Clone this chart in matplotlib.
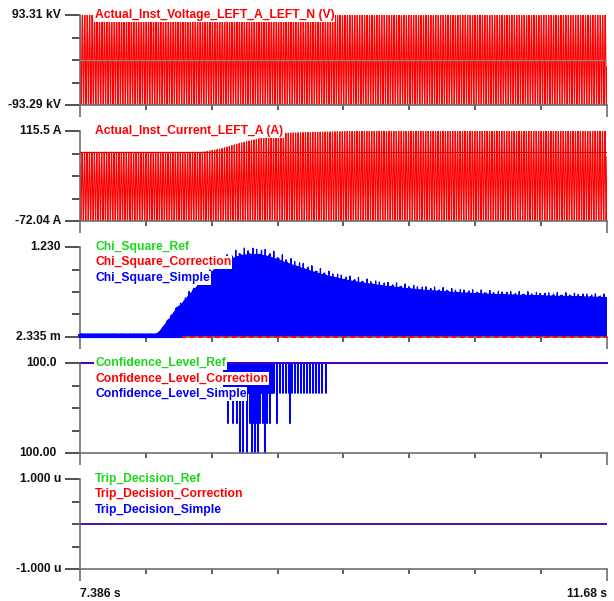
import numpy as np
import matplotlib
matplotlib.use("Agg")
import matplotlib.pyplot as plt

plt.rcParams["font.family"] = ["Liberation Sans", "DejaVu Sans"]
plt.rcParams["path.simplify"] = False

# ---- time base -------------------------------------------------------------
T_START, T_END = 7.386, 11.68
FS = 2000.0            # samples per second
F_GRID = 50.0          # grid frequency, Hz
t = np.arange(T_START, T_END, 1.0 / FS)

# ---- channel data ----------------------------------------------------------
volt_peak_kv = 93.3
volt_range = (-93.29, 93.31)

cur_knot_t = [7.386, 8.364, 8.388, 8.527, 8.665, 8.796, 8.934, 9.073, 9.342, 9.749, 11.680]
cur_hi_v = [71.7, 71.7, 71.7, 78.0, 88.4, 96.7, 105.1, 111.3, 113.4, 115.5, 115.5]
cur_lo_v = -72.04
cur_prefault_peak = 71.7
cur_range = (-72.04, 115.5)

chi_knot_t = [7.386, 8.013, 8.038, 8.119, 8.201, 8.282, 8.364, 8.445, 8.527, 8.608,
              8.690, 8.771, 8.853, 8.934, 9.056, 9.179, 9.342, 9.505, 9.667, 9.830,
              10.156, 10.482, 10.808, 11.134, 11.460, 11.680]
chi_knot_v = [0.025, 0.025, 0.055, 0.232, 0.423, 0.587, 0.737, 0.873, 0.982, 1.060,
              1.110, 1.130, 1.125, 1.095, 1.020, 0.950, 0.860, 0.795, 0.745, 0.705,
              0.645, 0.605, 0.580, 0.565, 0.552, 0.540]
chi_ref_v = 0.0
chi_corr_v = 0.0035
chi_range = (0.002335, 1.230)

conf_top = 100.0
conf_levels = [99.99867, 99.99733, 99.996]
conf_range = (99.996, 100.0)
conf_block = (8.559, 8.950)      # dense drop-outs to the first level
conf_spikes_1 = [8.967, 8.991, 9.016, 9.040, 9.065, 9.089, 9.113, 9.138, 9.162,
                 9.187, 9.211, 9.236, 9.260, 9.285, 9.309, 9.333, 9.358, 9.390]
conf_spikes_2 = [8.592, 8.633, 8.665, 8.690, 8.714, 8.747, 8.771, 8.796, 8.828,
                 8.853, 8.877, 8.910, 8.934, 8.991, 9.097]
conf_spikes_3 = [8.690, 8.714, 8.747, 8.788, 8.812, 8.836, 8.893]

trip_value = 0.0
trip_range = (-1.0e-6, 1.0e-6)

# ---- build waveforms -------------------------------------------------------
w = 2 * np.pi * F_GRID * t
voltage = volt_peak_kv * np.sin(w)

hi = np.interp(t, cur_knot_t, cur_hi_v)
current = (hi + cur_lo_v) / 2 + (hi - cur_lo_v) / 2 * np.sin(w + 0.6)

chi_env = np.interp(t, chi_knot_t, chi_knot_v)
ripple = 1.0 + 0.09 * np.cos(np.pi * 29.0 * t) ** 12
chi_simple = chi_env * ripple * (0.5 - 0.5 * np.cos(2 * w))
chi_ref = np.full_like(t, chi_ref_v)
chi_corr = np.full_like(t, chi_corr_v)

conf_simple = np.full_like(t, conf_top)
in_block = (t >= conf_block[0]) & (t <= conf_block[1])
idx_block = np.where(in_block)[0]
conf_simple[idx_block[::4]] = conf_levels[0]
conf_simple[idx_block[1::4]] = conf_levels[0]
for lvl, spikes in zip(conf_levels, [conf_spikes_1, conf_spikes_2, conf_spikes_3]):
    for ts in spikes:
        k = int(round((ts - T_START) * FS))
        conf_simple[k] = min(conf_simple[k], lvl)
conf_ref = np.full_like(t, conf_top)
conf_corr = np.full_like(t, conf_top)

trip = np.full_like(t, trip_value)

# ---- figure layout ---------------------------------------------------------
W, H = 614, 601
fig = plt.figure(figsize=(W / 100, H / 100), dpi=100)

AX_L, AX_W, AX_H = 80, 527, 90
tops = [15, 131, 247, 363, 479]
AXIS_GREY = "#6e6e6e"
GREEN, RED, BLUE = "#19d919", "#ff0000", "#0000ff"
FONT = dict(fontsize=8.7, fontweight="bold")


def make_axes(top):
    ax = fig.add_axes([AX_L / W, 1 - (top + AX_H) / H, AX_W / W, AX_H / H])
    ax.set_facecolor("none")
    for s in ("top", "right"):
        ax.spines[s].set_visible(False)
    for s in ("left", "bottom"):
        ax.spines[s].set_color(AXIS_GREY)
        ax.spines[s].set_linewidth(1.2)
    ax.set_xlim(T_START, T_END)
    xt = np.linspace(T_START, T_END, 9)
    ax.set_xticks([xt[0], xt[-1]])
    ax.set_xticks(xt[1:-1], minor=True)
    ax.tick_params(axis="x", which="major", direction="out", length=8.6,
                   width=1.2, color=AXIS_GREY, labelbottom=False)
    ax.tick_params(axis="x", which="minor", direction="out", length=3.6,
                   width=1.2, color="#444444")
    return ax


def y_axis(ax, lo, hi, lo_txt, hi_txt, gap_px):
    ax.set_ylim(lo, hi)
    yt = np.linspace(lo, hi, 5)
    ax.set_yticks([lo, hi])
    ax.set_yticks(yt[1:-1], minor=True)
    ax.tick_params(axis="y", which="major", direction="out", length=10.8,
                   width=1.2, color="#333333", labelleft=False)
    ax.tick_params(axis="y", which="minor", direction="out", length=5.8,
                   width=1.2, color="#333333")
    for val, txt in ((hi, hi_txt), (lo, lo_txt)):
        ax.annotate(txt, xy=(0, val), xycoords=("axes fraction", "data"),
                    xytext=(-gap_px * 0.72, 0), textcoords="offset points",
                    ha="right", va="center", color="#111111",
                    annotation_clip=False, **FONT)


def legend(ax, names, colors):
    for i, (n, c) in enumerate(zip(names, colors)):
        ax.text(15 / AX_W, 1 - i * 15.5 / AX_H, n, transform=ax.transAxes,
                ha="left", va="center", color=c, zorder=20, clip_on=False,
                bbox=dict(facecolor="white", edgecolor="none", pad=0.6), **FONT)


# Panel 1: voltage
ax1 = make_axes(tops[0])
ax1.plot(t, voltage, color=RED, lw=0.8, zorder=2)
ax1.axhline(0, color="#8a8a8a", lw=0.8, zorder=3)
y_axis(ax1, *volt_range, "-93.29 kV", "93.31 kV", 19)
legend(ax1, ["Actual_Inst_Voltage_LEFT_A_LEFT_N (V)"], [RED])

# Panel 2: current
ax2 = make_axes(tops[1])
ax2.plot(t, current, color=RED, lw=0.8, zorder=2)
ax2.axhline(cur_prefault_peak, color="#e00000", lw=0.8, zorder=3)
y_axis(ax2, *cur_range, "-72.04 A", "115.5 A", 19)
legend(ax2, ["Actual_Inst_Current_LEFT_A (A)"], [RED])

# Panel 3: chi-square
ax3 = make_axes(tops[2])
ax3.plot(t, chi_ref, color=GREEN, lw=1.0, zorder=1)
ax3.plot(t, chi_simple, color=BLUE, lw=0.9, zorder=2)
ax3.plot(t, chi_corr, color=RED, lw=1.6, dashes=(2.2, 1.6), zorder=3, clip_on=False)
pre = t < 8.2
ax3.plot(t[pre], np.maximum(chi_simple[pre], 0.012), color=BLUE, lw=2.6, zorder=4,
         clip_on=False)
y_axis(ax3, *chi_range, "2.335 m", "1.230", 19)
legend(ax3, ["Chi_Square_Ref", "Chi_Square_Correction", "Chi_Square_Simple"],
       [GREEN, RED, BLUE])

# Panel 4: confidence level
ax4 = make_axes(tops[3])
ax4.plot(t, conf_ref, color=GREEN, lw=1.2, zorder=1, clip_on=False)
ax4.plot(t, conf_simple, color=BLUE, lw=1.4, zorder=2, clip_on=False)
ax4.plot(t, conf_corr, color=RED, lw=1.2, alpha=0.3, zorder=3, clip_on=False)
y_axis(ax4, *conf_range, "100.00", "100.0", 23)
legend(ax4, ["Confidence_Level_Ref", "Confidence_Level_Correction",
             "Confidence_Level_Simple"], [GREEN, RED, BLUE])

# Panel 5: trip decision
ax5 = make_axes(tops[4])
ax5.plot(t, trip, color=GREEN, lw=1.2, zorder=1)
ax5.plot(t, trip, color=BLUE, lw=1.2, zorder=2)
ax5.plot(t, trip, color=RED, lw=1.2, alpha=0.3, zorder=3)
y_axis(ax5, *trip_range, "-1.000 u", "1.000 u", 19)
legend(ax5, ["Trip_Decision_Ref", "Trip_Decision_Correction", "Trip_Decision_Simple"],
       [GREEN, RED, BLUE])

# time labels under the last panel
fig.text(AX_L / W, 1 - 594 / H, f"{T_START:.3f} s", ha="left", va="center",
         color="#111111", **FONT)
fig.text((AX_L + AX_W) / W, 1 - 594 / H, f"{T_END:.2f} s", ha="right", va="center",
         color="#111111", **FONT)

fig.savefig("out.png", dpi=100, facecolor="white")
